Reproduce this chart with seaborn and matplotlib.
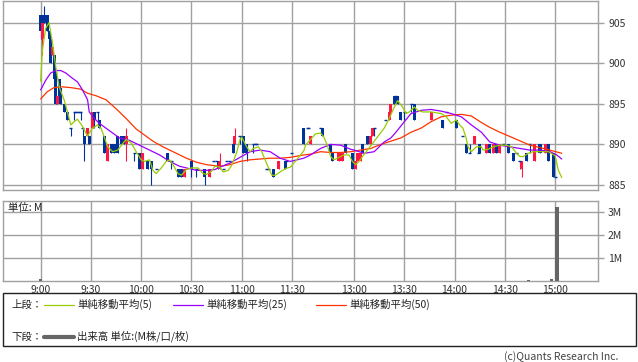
import numpy as np
import pandas as pd
import matplotlib
matplotlib.use("Agg")
import matplotlib.pyplot as plt
import seaborn as sns
from matplotlib.lines import Line2D
from matplotlib.patches import Rectangle

# ---------------- data ----------------
candle_time = ["9:00", "9:01", "9:02", "9:04", "9:05", "9:06", "9:07", "9:08", "9:09", "9:10",
               "9:11", "9:12", "9:14", "9:16", "9:18", "9:20", "9:21", "9:22", "9:23", "9:24",
               "9:25", "9:26", "9:28", "9:29", "9:31", "9:32", "9:34", "9:35", "9:38", "9:40",
               "9:42", "9:44", "9:46", "9:48", "9:50", "9:51", "9:56", "9:59", "10:01", "10:04",
               "10:06", "10:09", "10:16", "10:18", "10:22", "10:24", "10:26", "10:30", "10:33", "10:38",
               "10:41", "10:43", "10:45", "10:46", "10:47", "10:49", "10:51", "10:53", "10:55", "10:56",
               "10:59", "11:01", "11:03", "11:07", "11:08", "11:09", "11:15", "11:16", "11:19", "11:22",
               "11:26", "11:27", "11:30",
               "12:30", "12:32", "12:33", "12:34", "12:40", "12:41", "12:46", "12:47", "12:51", "12:53",
               "12:55", "12:59", "13:01", "13:02", "13:04", "13:05", "13:08", "13:10", "13:11", "13:12",
               "13:19", "13:21", "13:22", "13:24", "13:25", "13:26", "13:28", "13:30", "13:34", "13:36",
               "13:46", "13:53", "13:55", "14:01", "14:05", "14:07", "14:09", "14:12", "14:14", "14:15",
               "14:19", "14:21", "14:23", "14:25", "14:27", "14:29", "14:32", "14:35", "14:37", "14:39",
               "14:40", "14:43", "14:45", "14:48", "14:51", "14:54", "14:56", "14:59", "15:00"]
candle_open = [906, 903, 906, 906, 904, 903, 901, 901, 899, 895,
               898, 897, 895, 894, 892, 894, 894, 894, 894, 894,
               892, 891, 891, 891, 892, 894, 894, 893, 891, 888,
               890, 890, 891, 891, 891, 890, 889, 889, 887, 888,
               888, 887, 889, 888, 887, 887, 886, 888, 887, 887,
               886, 888, 888, 888, 887, 887, 888, 888, 890, 890,
               891, 891, 890, 890, 890, 890, 887, 887, 887, 887,
               888, 888, 889,
               892, 892, 892, 890, 892, 892, 890, 889, 888, 888,
               890, 889, 887, 888, 888, 890, 891, 890, 891, 892,
               893, 893, 894, 896, 896, 896, 894, 894, 895, 895,
               893, 893, 894, 893, 891, 890, 889, 890, 889, 890,
               889, 890, 889, 890, 889, 890, 890, 889, 889, 888,
               887, 889, 890, 888, 890, 889, 890, 889, 886]
candle_high = [906, 905, 907, 906, 904, 903, 902, 901, 899, 896,
               898, 897, 895, 894, 892, 894, 894, 894, 894, 894,
               892, 891, 892, 891, 894, 894, 894, 893, 891, 890,
               890, 890, 891, 891, 891, 892, 889, 889, 889, 888,
               888, 887, 889, 888, 887, 887, 887, 888, 887, 887,
               887, 888, 888, 888, 889, 887, 888, 888, 890, 892,
               891, 891, 890, 890, 890, 890, 887, 887, 887, 888,
               888, 888, 889,
               892, 892, 892, 891, 892, 892, 890, 889, 889, 889,
               890, 889, 888, 889, 889, 890, 891, 891, 892, 892,
               893, 894, 895, 896, 896, 896, 894, 894, 895, 895,
               894, 893, 894, 893, 891, 890, 890, 891, 889, 890,
               890, 890, 890, 890, 890, 890, 890, 889, 889, 888,
               888, 889, 890, 890, 890, 890, 890, 889, 886]
candle_low = [903, 901, 905, 904, 903, 900, 901, 898, 895, 895,
              896, 895, 894, 893, 891, 893, 894, 894, 894, 893,
              891, 888, 890, 890, 892, 892, 893, 892, 889, 888,
              889, 889, 889, 890, 890, 888, 888, 887, 887, 887,
              885, 887, 888, 887, 886, 886, 886, 886, 886, 885,
              886, 888, 888, 887, 887, 887, 888, 888, 889, 890,
              890, 889, 888, 889, 890, 890, 887, 887, 886, 887,
              887, 888, 889,
              890, 892, 892, 890, 892, 891, 889, 888, 888, 888,
              889, 887, 887, 888, 888, 889, 890, 890, 891, 891,
              893, 893, 894, 895, 896, 895, 893, 893, 894, 893,
              893, 892, 894, 892, 891, 889, 889, 890, 889, 889,
              889, 889, 889, 889, 889, 890, 889, 888, 889, 887,
              886, 888, 889, 888, 889, 889, 888, 886, 886]
candle_close = [904, 905, 905, 904, 903, 900, 902, 898, 895, 896,
                896, 895, 894, 893, 892, 894, 894, 894, 894, 894,
                892, 890, 892, 890, 894, 893, 894, 892, 889, 890,
                889, 889, 889, 890, 890, 891, 889, 887, 889, 887,
                887, 887, 888, 888, 886, 886, 887, 887, 887, 886,
                887, 888, 888, 887, 888, 887, 888, 888, 889, 891,
                891, 889, 889, 890, 890, 890, 887, 887, 886, 888,
                887, 888, 889,
                890, 892, 892, 891, 892, 891, 889, 888, 889, 889,
                889, 887, 888, 889, 889, 889, 890, 891, 892, 892,
                893, 894, 895, 895, 896, 895, 893, 894, 895, 893,
                894, 892, 894, 892, 891, 889, 889, 891, 889, 889,
                890, 889, 890, 889, 890, 890, 889, 888, 889, 888,
                888, 888, 890, 890, 889, 890, 888, 886, 886]

ma5_time = ["9:00", "9:01", "9:03", "9:05", "9:07", "9:09", "9:11", "9:14", "9:16", "9:18",
            "9:20", "9:22", "9:25", "9:28", "9:29", "9:31", "9:34", "9:36", "9:38", "9:40",
            "9:43", "9:46", "9:49", "9:51", "9:54", "9:57", "10:00", "10:02", "10:05", "10:07",
            "10:09", "10:12", "10:15", "10:17", "10:19", "10:22", "10:24", "10:27", "10:30", "10:34",
            "10:37", "10:39", "10:42", "10:44", "10:47", "10:49", "10:52", "10:54", "10:57", "10:59",
            "11:00", "11:03", "11:05", "11:07", "11:10", "11:12", "11:15", "11:18", "11:20", "11:23",
            "11:26", "11:29", "11:30",
            "12:30", "12:31", "12:34", "12:37", "12:40", "12:42", "12:44", "12:46", "12:48", "12:51",
            "12:54", "12:57", "12:59", "13:01", "13:03", "13:05", "13:08", "13:11", "13:15", "13:18",
            "13:21", "13:24", "13:26", "13:29", "13:31", "13:33", "13:36", "13:38", "13:41", "13:46",
            "13:52", "13:55", "13:58", "14:01", "14:03", "14:05", "14:07", "14:08", "14:10", "14:13",
            "14:16", "14:17", "14:20", "14:23", "14:27", "14:31", "14:34", "14:37", "14:39", "14:41",
            "14:44", "14:47", "14:56", "15:00", "15:02", "15:04"]
ma5_value = [897.8, 901.6, 904.3, 905.0, 902.6, 899.6, 897.1, 895.5, 894.0, 892.4,
             892.8, 893.1, 892.2, 891.0, 891.4, 892.0, 892.4, 892.0, 890.9, 889.7,
             889.1, 889.3, 890.1, 890.6, 890.2, 889.1, 888.1, 887.9, 888.1, 886.8,
             886.4, 887.1, 887.9, 888.1, 887.5, 886.4, 886.2, 886.9, 887.1, 887.1,
             886.4, 886.3, 886.7, 887.3, 887.2, 886.6, 886.8, 887.4, 889.0, 890.6,
             890.9, 889.7, 889.1, 889.5, 889.7, 889.1, 887.6, 886.2, 886.2, 886.6,
             887.0, 887.2, 887.4,
             889.2, 889.9, 890.6, 891.3, 891.4, 890.9, 889.9, 888.5, 888.1, 888.4,
             888.7, 888.7, 887.9, 887.5, 887.9, 888.5, 889.3, 890.1, 891.2, 892.0,
             893.2, 894.6, 895.4, 894.6, 893.8, 894.0, 894.6, 894.2, 894.0, 894.0,
             893.8, 893.4, 892.6, 893.0, 892.4, 892.0, 890.7, 889.7, 889.1, 889.7,
             889.7, 889.3, 889.4, 889.7, 889.9, 889.9, 889.7, 888.9, 888.5, 888.5,
             888.9, 889.1, 889.1, 888.6, 886.8, 885.9]

ma25_time = ["9:00", "9:03", "9:06", "9:09", "9:12", "9:15", "9:18", "9:22", "9:25", "9:28",
             "9:29", "9:32", "9:35", "9:39", "9:43", "9:47", "9:53", "9:57", "10:01", "10:07",
             "10:11", "10:17", "10:23", "10:27", "10:33", "10:39", "10:44", "10:47", "10:53", "10:59",
             "11:05", "11:11", "11:17", "11:23", "11:29",
             "12:30", "12:34", "12:40", "12:46", "12:52", "12:58", "13:00", "13:06", "13:12", "13:18",
             "13:22", "13:25", "13:30", "13:34", "13:40", "13:46", "13:52", "13:58", "14:04", "14:10",
             "14:16", "14:21", "14:27", "14:33", "14:39", "14:45", "14:51", "14:57", "15:01", "15:04"]
ma25_value = [896.7, 897.9, 898.8, 899.1, 899.1, 898.8, 898.3, 897.7, 896.7, 895.5,
              894.0, 893.2, 892.6, 892.0, 891.4, 890.8, 890.5, 890.1, 889.7, 889.1,
              888.7, 887.9, 887.3, 887.1, 886.8, 886.8, 886.9, 887.2, 887.7, 888.4,
              889.1, 889.3, 889.1, 888.3, 887.9,
              888.3, 888.7, 889.5, 890.0, 889.9, 889.4, 889.3, 888.9, 889.1, 890.3,
              890.8, 891.5, 892.8, 893.8, 894.2, 894.3, 894.1, 893.8, 893.4, 892.4,
              891.5, 890.3, 889.9, 889.7, 889.5, 889.3, 889.3, 889.1, 888.7, 888.2]

ma50_time = ["9:00", "9:04", "9:08", "9:12", "9:18", "9:24", "9:28", "9:33", "9:39", "9:45",
             "9:51", "9:57", "10:01", "10:07", "10:13", "10:19", "10:27", "10:33", "10:39", "10:47",
             "10:53", "10:59", "11:05", "11:11", "11:17", "11:23", "11:29",
             "12:30", "12:34", "12:40", "12:46", "12:52", "12:58", "13:04", "13:10", "13:16", "13:22",
             "13:28", "13:34", "13:40", "13:46", "13:52", "13:58", "14:04", "14:10", "14:16", "14:21",
             "14:27", "14:35", "14:45", "14:55", "15:04"]
ma50_value = [895.6, 896.5, 897.0, 897.1, 897.0, 896.8, 896.3, 896.0, 895.5, 894.4,
              893.2, 891.9, 891.3, 890.4, 889.7, 889.1, 888.3, 887.8, 887.5, 887.3,
              887.5, 887.9, 888.1, 888.2, 888.3, 888.3, 888.4,
              888.7, 888.8, 889.1, 889.0, 889.0, 889.1, 889.3, 889.5, 890.0, 890.4,
              890.8, 891.5, 892.0, 892.8, 893.4, 893.6, 893.7, 893.5, 892.7, 892.1,
              891.5, 890.8, 889.9, 889.4, 888.9]

volume_time = ["9:00", "14:08", "14:44", "14:58", "15:01"]
volume_value = [0.1, 0.02, 0.03, 0.07, 3.22]

time_ticks = ["9:00", "9:30", "10:00", "10:30", "11:00", "11:30",
              "13:00", "13:30", "14:00", "14:30", "15:00"]
price_ticks = [885, 890, 895, 900, 905]
volume_ticks = [1, 2, 3]
volume_tick_labels = ["1M", "2M", "3M"]

legend_labels = ["単純移動平均(5)", "単純移動平均(25)", "単純移動平均(50)"]
ma_colors = ["#99cc00", "#9900ff", "#ff3300"]
UP = "#ff1744"
DOWN = "#003399"
GRID = "#a0a0a0"
VOLC = "#666666"


def tpos(t):
    h, m = map(int, t.split(":"))
    mins = h * 60 + m
    if mins <= 11 * 60 + 30:
        return mins - 9 * 60
    return 157.1 + (mins - (12 * 60 + 30))


# ---------------- figure ----------------
sns.set_theme(style="white")
plt.rcParams['font.family'] = ['Noto Sans CJK JP', 'DejaVu Sans']

W, H = 638, 362
fig = plt.figure(figsize=(W / 100, H / 100), dpi=100)
ax1 = fig.add_axes([3.3 / W, 1 - 190 / H, 595 / W, 189 / H])
ax2 = fig.add_axes([3.3 / W, 1 - 281 / H, 595 / W, 80 / H])

xlim = (-22.3, 332.9)
for ax in (ax1, ax2):
    ax.set_xlim(*xlim)
    ax.set_facecolor("white")
    for s in ax.spines.values():
        s.set_color(GRID)
        s.set_linewidth(1.0)
    ax.set_xticks([tpos(t) for t in time_ticks])
    ax.grid(True, color=GRID, linewidth=1.0)
    ax.set_axisbelow(True)
    ax.yaxis.tick_right()
    ax.tick_params(axis="y", which="both", right=True, left=False, length=4,
                   width=1.0, color=GRID, labelsize=7.5, labelcolor="#333333", pad=3)
    ax.tick_params(axis="x", length=0, labelsize=7.5, labelcolor="#333333", pad=3)

# candles
cx = np.array([tpos(t) for t in candle_time])
o = np.array(candle_open, float)
hi = np.array(candle_high, float)
lo = np.array(candle_low, float)
c = np.array(candle_close, float)
colors = np.where(c > o, UP, DOWN)
ax1.vlines(cx, lo, hi, colors=colors, linewidth=0.8, zorder=3)
body = np.abs(c - o)
mask = body > 0
ax1.bar(cx[mask], body[mask], bottom=np.minimum(o, c)[mask], width=1.8,
        color=colors[mask], linewidth=0, zorder=3)
ax1.hlines(o[~mask], cx[~mask] - 0.9, cx[~mask] + 0.9, colors=colors[~mask],
           linewidth=1.0, zorder=3)

# moving averages
for tt, vv, col in [(ma50_time, ma50_value, ma_colors[2]),
                    (ma25_time, ma25_value, ma_colors[1]),
                    (ma5_time, ma5_value, ma_colors[0])]:
    df = pd.DataFrame({"x": [tpos(t) for t in tt], "y": vv})
    sns.lineplot(data=df, x="x", y="y", ax=ax1, color=col, linewidth=0.9,
                 estimator=None, sort=True, zorder=4)

ax1.set_ylim(884.38, 907.67)
ax1.set_yticks(price_ticks)
ax1.set_xticklabels([])
ax1.set_xlabel("")
ax1.set_ylabel("")

# volume
ax2.bar([tpos(t) for t in volume_time], volume_value, width=2.1, color=VOLC,
        linewidth=0, zorder=3)
ax2.set_ylim(0, 3.46)
ax2.set_yticks(volume_ticks)
ax2.set_yticklabels(volume_tick_labels)
ax2.set_xticklabels(time_ticks)
ax2.set_xlabel("")
ax2.set_ylabel("")
ax2.text(0.008, 0.91, "単位: M", transform=ax2.transAxes, fontsize=7.5,
         color="#222222", va="center", ha="left")

# legend box
fig.patches.append(Rectangle((3.3 / W, 1 - 346 / H), 632.5 / W, 53 / H,
                             transform=fig.transFigure, fill=False,
                             edgecolor="#222222", linewidth=1.0))


def fx(px):
    return px / W


def fy(py):
    return 1 - py / H


row1 = 304.5
row2 = 336.5
fig.text(fx(11), fy(row1), "上段：", fontsize=7.5, va="center", ha="left", color="#222222")
line_x = [(44, 74), (173, 203), (316, 346)]
text_x = [77, 206, 349]
for (a, b), tx, lab, col in zip(line_x, text_x, legend_labels, ma_colors):
    fig.lines.append(Line2D([fx(a), fx(b)], [fy(row1), fy(row1)], transform=fig.transFigure,
                            color=col, linewidth=0.9))
    fig.text(fx(tx), fy(row1), lab, fontsize=7.5, va="center", ha="left", color="#222222")

fig.text(fx(11), fy(row2), "下段：", fontsize=7.5, va="center", ha="left", color="#222222")
fig.lines.append(Line2D([fx(44), fx(74)], [fy(row2), fy(row2)], transform=fig.transFigure,
                        color=VOLC, linewidth=3.0))
fig.text(fx(77), fy(row2), "出来高 単位:(M株/口/枚)", fontsize=7.5, va="center", ha="left",
         color="#222222")

fig.text(fx(618), fy(356.5), "(c)Quants Research Inc.", fontsize=7.5, va="center",
         ha="right", color="#444444")

fig.savefig("out.png", dpi=100)
